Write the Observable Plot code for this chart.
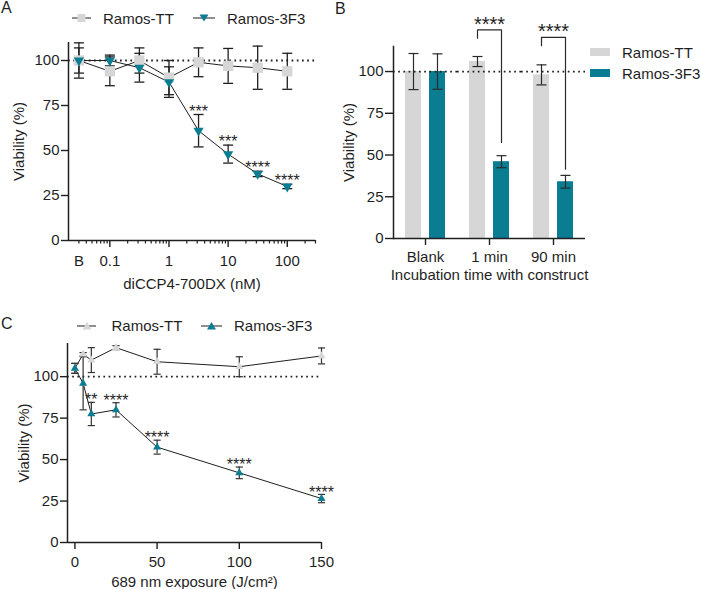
<!DOCTYPE html>
<html lang="en">
<head>
<meta charset="utf-8">
<title>Viability of Ramos-TT and Ramos-3F3 cells</title>
<script src="https://cdn.jsdelivr.net/npm/d3@7"></script>
<script src="https://cdn.jsdelivr.net/npm/@observablehq/plot@0.6"></script>
<style>
  html, body { margin: 0; padding: 0; background: #fff; }
  #figure { position: relative; width: 701px; height: 589px; overflow: hidden;
            font-family: "Liberation Sans", Arial, Helvetica, sans-serif; color: #1f1f1f; }
  .panel { position: absolute; }
  .panel svg { overflow: visible; }
  .tag { position: absolute; font-size: 16px; line-height: 16px; }
  .key { position: absolute; font-size: 15px; line-height: 15px; white-space: nowrap; }
  .swatch { position: absolute; overflow: visible; }
</style>
</head>
<body>
<div id="figure"></div>
<script>
// ---------- A: viability vs. conjugate concentration (log axis, blank shown as "B") ----------
const doseLevels = [0.03, 0.1, 0.316, 1, 3.16, 10, 31.6, 100];
const doseDomain = [0.02, 300];
const doseTickValues = [0.1, 1, 10, 100];
const doseTickLabels = ["0.1", "1", "10", "100"];
const blankTickValue = 0.03;
const blankTickLabel = "B";
const doseTT = [100, 94, 100, 90.5, 99, 97, 96, 94];
const doseTTsd = [9.8, 8, 7, 9.5, 8, 9.7, 12, 10];
const dose3F3 = [100, 100, 96, 88, 61, 48, 37, 30];
const dose3F3sd = [7, 3, 8, 8.5, 9, 5, 1.5, 1.2];
const doseStars = ["", "", "", "", "***", "***", "****", "****"];

// ---------- B: viability after incubation with the construct ----------
const timeGroups = ["Blank", "1 min", "90 min"];
const cellLines = ["Ramos-TT", "Ramos-3F3"];
const timeTT = [100, 106, 98];
const timeTTsd = [10.8, 3, 6];
const time3F3 = [100, 46, 34];
const time3F3sd = [10.6, 3.6, 3.8];
const compareGroups = ["1 min", "90 min"];
const compareTop = [125, 120.5];
const compareLeftEnd = [120, 115.5];
const compareRightEnd = [57.5, 41.5];
const compareStars = ["****", "****"];

// ---------- C: viability vs. 689 nm light dose ----------
const fluence = [0, 5, 10, 25, 50, 100, 150];
const fluenceDomain = [-4.5, 150];
const fluenceTicks = [0, 50, 100, 150];
const lightTT = [105, 113.5, 110, 117.5, 109, 106, 112.5];
const lightTTsd = [3, 1, 7.5, 1.2, 7.5, 6, 4.8];
const light3F3 = [105, 96, 77.5, 80, 57.5, 42, 26.5];
const light3F3sd = [3, 16, 7, 4.3, 4.2, 3.5, 2.5];
const lightStars = ["", "", "**", "****", "****", "****", "****"];

const viabilityTicks = [0, 25, 50, 75, 100];
const referenceLevel = [100];

// ---------- shared styling ----------
const font = '"Liberation Sans", Arial, Helvetica, sans-serif';
const ink = "#1f1f1f";
const teal = "#0a7d92";
const grey = "#d6d6d6";
const baseStyle = {fontFamily: font, fontSize: "15px", color: ink, background: "none"};
const dotted = {stroke: ink, strokeWidth: 1.8, strokeDasharray: "1.7,3.5"};
const axisLine = {stroke: ink, strokeWidth: 1.5};

// horizontal cap used at both ends of an error bar
const capSymbol = {
  draw(context, size) {
    const w = Math.sqrt(size / Math.PI);
    context.moveTo(-w, 0);
    context.lineTo(w, 0);
  }
};

function errorBars(rows, channels, {stroke = ink, width = 1.3, capR = 5} = {}) {
  return [
    Plot.ruleX(rows, {...channels, y1: "lo", y2: "hi", stroke, strokeWidth: width}),
    Plot.dot(rows, {...channels, y: "lo", symbol: capSymbol, r: capR, stroke, strokeWidth: width, fill: "none"}),
    Plot.dot(rows, {...channels, y: "hi", symbol: capSymbol, r: capR, stroke, strokeWidth: width, fill: "none"})
  ];
}

const seriesRows = (xs, ys, sds, stars = []) =>
  xs.map((x, i) => ({x, y: ys[i], lo: ys[i] - sds[i], hi: ys[i] + sds[i], star: stars[i] ?? ""}));

const figure = document.getElementById("figure");
function place(node, left, top) {
  const wrap = document.createElement("div");
  wrap.className = "panel";
  wrap.style.left = left + "px";
  wrap.style.top = top + "px";
  wrap.append(node);
  figure.append(wrap);
}
function addHtml(html) {
  figure.insertAdjacentHTML("beforeend", html);
}

// ---------- panel A ----------
const ttA = seriesRows(doseLevels, doseTT, doseTTsd);
const f3A = seriesRows(doseLevels, dose3F3, dose3F3sd, doseStars);
const minorDoseTicks = [0.01, 0.1, 1, 10, 100]
  .flatMap(d => d3.range(2, 10).map(k => +(k * d).toPrecision(3)))
  .filter(v => v >= blankTickValue && v <= doseDomain[1]);

place(Plot.plot({
  width: 340, height: 290,
  marginLeft: 68, marginRight: 25, marginTop: 42, marginBottom: 50,
  style: baseStyle,
  x: {type: "log", domain: doseDomain},
  y: {domain: [0, 110]},
  marks: [
    Plot.ruleY(referenceLevel, dotted),
    Plot.axisY({ticks: viabilityTicks, tickSize: 7, tickPadding: 2, strokeWidth: 1.4,
      label: "Viability (%)", labelAnchor: "center", labelOffset: 55, labelArrow: "none"}),
    Plot.axisX({ticks: doseTickValues, tickSize: 7, tickPadding: 8, strokeWidth: 1.4,
      tickFormat: d => doseTickLabels[doseTickValues.indexOf(d)],
      label: "diCCP4-700DX (nM)", labelAnchor: "center", labelOffset: 48, labelArrow: "none"}),
    Plot.axisX({ticks: minorDoseTicks, tickSize: 3.5, strokeWidth: 1.2, tickFormat: () => "", label: null}),
    // the blank sample sits on the 0.03 minor tick and is labelled "B"
    Plot.text([blankTickValue], {x: d => d, text: () => blankTickLabel, frameAnchor: "bottom",
      lineAnchor: "top", dy: 15, fill: ink}),
    Plot.ruleY([0], axisLine),
    Plot.ruleX([doseDomain[0]], axisLine),
    Plot.line(ttA, {x: "x", y: "y", stroke: ink, strokeWidth: 1}),
    Plot.line(f3A, {x: "x", y: "y", stroke: ink, strokeWidth: 1}),
    ...errorBars(ttA, {x: "x"}),
    ...errorBars(f3A, {x: "x"}),
    Plot.dot(ttA, {x: "x", y: "y", symbol: "square", r: 5.8, fill: grey}),
    Plot.dot(f3A, {x: "x", y: "y", symbol: "triangle", rotate: 180, r: 3.8, fill: teal}),
    Plot.text(f3A, {x: "x", y: "hi", text: "star", dy: -3, fontSize: 16, fill: ink})
  ]
}), 0, 0);

// ---------- panel B ----------
const barRows = timeGroups.flatMap((group, i) => [
  {group, line: cellLines[0], value: timeTT[i], lo: timeTT[i] - timeTTsd[i], hi: timeTT[i] + timeTTsd[i]},
  {group, line: cellLines[1], value: time3F3[i], lo: time3F3[i] - time3F3sd[i], hi: time3F3[i] + time3F3sd[i]}
]);
const bracketRows = compareGroups.flatMap((group, i) => [
  {group, line: cellLines[0], y: compareLeftEnd[i]},
  {group, line: cellLines[0], y: compareTop[i]},
  {group, line: cellLines[1], y: compareTop[i]},
  {group, line: cellLines[1], y: compareRightEnd[i]}
]);
const starRows = compareGroups.map((group, i) => ({group, y: compareTop[i], text: compareStars[i]}));

place(Plot.plot({
  width: 361, height: 290,
  marginLeft: 53, marginRight: 116, marginTop: 46, marginBottom: 52,
  style: baseStyle,
  fx: {domain: timeGroups, padding: 0},
  x: {domain: cellLines, paddingInner: 0.347, paddingOuter: 0.48, axis: null},
  y: {domain: [0, 115]},
  color: {domain: cellLines, range: [grey, teal]},
  marks: [
    Plot.barY(barRows, {fx: "group", x: "line", y: "value", fill: "line"}),
    Plot.ruleY(referenceLevel, dotted),
    Plot.ruleY([0], axisLine),
    // value axis line, drawn in the first facet only
    Plot.frame({anchor: "left", fx: [timeGroups[0]], ...axisLine}),
    Plot.axisY({ticks: viabilityTicks, tickSize: 8, tickPadding: 2, strokeWidth: 1.4,
      label: "Viability (%)", labelAnchor: "center", labelOffset: 50, labelArrow: "none"}),
    Plot.axisFx({anchor: "bottom", tickSize: 7, tickPadding: 6, strokeWidth: 1.4,
      label: "Incubation time with construct", labelAnchor: "center", labelOffset: 41, labelArrow: "none"}),
    ...errorBars(barRows, {fx: "group", x: "line"}, {stroke: "#2a2a2a", width: 1.2, capR: 5}),
    Plot.line(bracketRows, {fx: "group", x: "line", y: "y", z: "group", stroke: "#2a2a2a", strokeWidth: 1.2}),
    Plot.text(starRows, {fx: "group", y: "y", text: "text", dy: -5.5, fontSize: 20, fill: ink})
  ]
}), 340, 0);

// ---------- panel C ----------
const ttC = seriesRows(fluence, lightTT, lightTTsd);
const f3C = seriesRows(fluence, light3F3, light3F3sd, lightStars);

place(Plot.plot({
  width: 340, height: 299,
  marginLeft: 67, marginRight: 19, marginTop: 53, marginBottom: 47,
  style: baseStyle,
  x: {domain: fluenceDomain},
  y: {domain: [0, 120]},
  marks: [
    Plot.ruleY(referenceLevel, dotted),
    Plot.axisY({ticks: viabilityTicks, tickSize: 7, tickPadding: 2, strokeWidth: 1.4,
      label: "Viability (%)", labelAnchor: "center", labelOffset: 49, labelArrow: "none"}),
    Plot.axisX({ticks: fluenceTicks, tickSize: 7, tickPadding: 7, strokeWidth: 1.4,
      label: "689 nm exposure (J/cm²)", labelAnchor: "center", labelOffset: 44, labelArrow: "none"}),
    Plot.ruleY([0], axisLine),
    Plot.ruleX([fluenceDomain[0]], axisLine),
    Plot.line(ttC, {x: "x", y: "y", stroke: ink, strokeWidth: 1}),
    Plot.line(f3C, {x: "x", y: "y", stroke: ink, strokeWidth: 1}),
    ...errorBars(ttC, {x: "x"}, {stroke: "#333", width: 1.2, capR: 3.6}),
    ...errorBars(f3C, {x: "x"}, {stroke: "#333", width: 1.2, capR: 3.6}),
    Plot.dot(ttC, {x: "x", y: "y", symbol: "triangle", r: 3, fill: grey}),
    Plot.dot(f3C, {x: "x", y: "y", symbol: "triangle", r: 3, fill: teal}),
    Plot.text(f3C, {x: "x", y: "hi", text: "star", dy: -2, fontSize: 16, fill: ink})
  ]
}), 0, 290);

// ---------- panel letters and legends ----------
addHtml(`<div class="tag" style="left:1px;top:0px">A</div>`);
addHtml(`<div class="tag" style="left:335px;top:1px">B</div>`);
addHtml(`<div class="tag" style="left:1px;top:316px">C</div>`);

// A: line + marker keys
addHtml(`<svg class="swatch" style="left:71px;top:12px" width="21" height="12">
  <line x1="1" y1="6" x2="20" y2="6" stroke="${ink}" stroke-width="1"/>
  <rect x="6.5" y="2" width="8" height="8" fill="${grey}"/></svg>`);
addHtml(`<div class="key" style="left:103px;top:11px">${cellLines[0]}</div>`);
addHtml(`<svg class="swatch" style="left:193px;top:12px" width="23" height="12">
  <line x1="0" y1="6" x2="22" y2="6" stroke="${ink}" stroke-width="1"/>
  <path d="M6.5,2.5 L15.5,2.5 L11,9.5 Z" fill="${teal}"/></svg>`);
addHtml(`<div class="key" style="left:227px;top:11px">${cellLines[1]}</div>`);

// B: filled swatches
addHtml(`<svg class="swatch" style="left:590px;top:48px" width="20" height="8">
  <rect x="0" y="0" width="20" height="8" fill="${grey}"/></svg>`);
addHtml(`<div class="key" style="left:622px;top:44.7px">${cellLines[0]}</div>`);
addHtml(`<svg class="swatch" style="left:590px;top:69px" width="20" height="8">
  <rect x="0" y="0" width="20" height="8" fill="${teal}"/></svg>`);
addHtml(`<div class="key" style="left:622px;top:65.7px">${cellLines[1]}</div>`);

// C: line + triangle keys
addHtml(`<svg class="swatch" style="left:77px;top:319.7px" width="20" height="12">
  <line x1="0" y1="6" x2="19" y2="6" stroke="${ink}" stroke-width="1"/>
  <path d="M10,2 L14.5,9.5 L5.5,9.5 Z" fill="${grey}"/></svg>`);
addHtml(`<div class="key" style="left:111.5px;top:318.4px">${cellLines[0]}</div>`);
addHtml(`<svg class="swatch" style="left:201px;top:319.7px" width="21" height="12">
  <line x1="0" y1="6" x2="21" y2="6" stroke="${ink}" stroke-width="1"/>
  <path d="M10.5,2 L15,9.5 L6,9.5 Z" fill="${teal}"/></svg>`);
addHtml(`<div class="key" style="left:234px;top:318.4px">${cellLines[1]}</div>`);
</script>
</body>
</html>
